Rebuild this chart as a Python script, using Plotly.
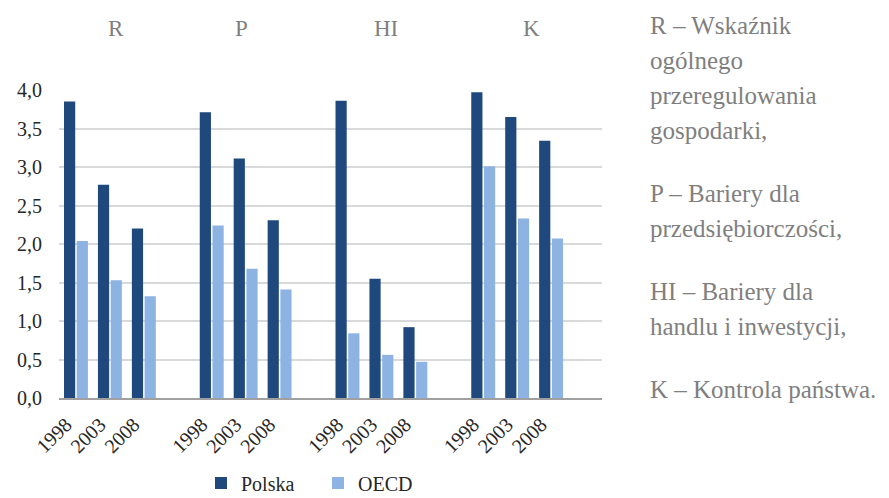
import plotly.graph_objects as go

# ---- data ----
groups = ["R", "P", "HI", "K"]
years = ["1998", "2003", "2008"]
polska = [3.85, 2.77, 2.20, 3.71, 3.11, 2.31, 3.86, 1.55, 0.92, 3.97, 3.65, 3.34]
oecd = [2.04, 1.53, 1.32, 2.24, 1.68, 1.41, 0.84, 0.56, 0.47, 3.01, 2.33, 2.07]
y_ticks = [0.0, 0.5, 1.0, 1.5, 2.0, 2.5, 3.0, 3.5, 4.0]
series_names = ["Polska", "OECD"]
desc_paragraphs = [
    ["R – Wskaźnik", "ogólnego", "przeregulowania", "gospodarki,"],
    ["P – Bariery dla", "przedsiębiorczości,"],
    ["HI – Bariery dla", "handlu i inwestycji,"],
    ["K – Kontrola państwa."],
]

# ---- layout constants (page pixels; the page body has an 8px margin) ----
OFF = 8
PAGE_W, PAGE_H = 889, 498
W, H = PAGE_W - OFF, PAGE_H - OFF
plot_left, plot_right, plot_top, plot_bottom = 59, 602, 90, 398  # page px
L = plot_left - OFF
T = plot_top - OFF
R = W - (plot_right - OFF)
B = H - (plot_bottom - OFF)
plot_h = plot_bottom - plot_top
plot_w = plot_right - plot_left
FONT = "Liberation Serif"
C_POL = "#1F497D"
C_OECD = "#8DB3E2"
GRAY_TXT = "#7F7F7F"

slots_per_group = len(years) + 1
xpos = [gi * slots_per_group + yi for gi in range(len(groups)) for yi in range(len(years))]
ticktext = [years[yi] for gi in range(len(groups)) for yi in range(len(years))]

fig = go.Figure()
fig.add_trace(go.Bar(x=xpos, y=polska, name=series_names[0], marker_color=C_POL,
                     marker_line_width=0))
fig.add_trace(go.Bar(x=xpos, y=oecd, name=series_names[1], marker_color=C_OECD,
                     marker_line_width=0))

def py(px):
    return (plot_bottom - px) / plot_h

def pxx(px):
    return (px - plot_left) / plot_w

annotations = []
grp_px = [116, 241, 386, 531]
for g, gx in zip(groups, grp_px):
    annotations.append(dict(text=g, x=pxx(gx), y=py(28), xref="paper", yref="paper",
                            xanchor="center", yanchor="middle", showarrow=False,
                            font=dict(family=FONT, size=23, color=GRAY_TXT)))

fs = 25
line_step = 35
para_step = 63
base = 33
y_cur = base
for pi, para in enumerate(desc_paragraphs):
    for li, line in enumerate(para):
        annotations.append(dict(text=line, x=pxx(648), y=py(y_cur - 0.3 * fs),
                                xref="paper", yref="paper", xanchor="left",
                                yanchor="middle", showarrow=False,
                                font=dict(family=FONT, size=fs, color=GRAY_TXT)))
        if li < len(para) - 1:
            y_cur += line_step
    y_cur += para_step

fig.update_layout(
    width=W, height=H,
    margin=dict(l=L, r=R, t=T, b=B, pad=0, autoexpand=False),
    paper_bgcolor="white", plot_bgcolor="white",
    separators=", ",
    barmode="group", bargap=0.25, bargroupgap=0.12,
    font=dict(family=FONT, size=20, color="#262626"),
    showlegend=True,
    legend=dict(orientation="h", x=pxx(201), xanchor="left", y=py(483), yanchor="middle",
                font=dict(family=FONT, size=20, color="#262626"),
                itemwidth=30, entrywidth=72, entrywidthmode="pixels",
                bgcolor="rgba(0,0,0,0)"),
    annotations=annotations,
)
fig.update_xaxes(range=[-0.5, len(groups) * slots_per_group - 0.5], automargin=False,
                 tickmode="array", tickvals=xpos, ticktext=ticktext, tickangle=-45,
                 ticklabelshift=-10, ticklabelstandoff=5,
                 showgrid=False, zeroline=False, showline=True, linecolor="#A0A0A0",
                 linewidth=2, ticks="", tickfont=dict(family=FONT, size=20, color="#262626"))
fig.update_yaxes(range=[0, 4], tickmode="array", tickvals=y_ticks, tickformat=".1f",
                 automargin=False,
                 showgrid=True, gridcolor="#D9D9D9", gridwidth=1.5, zeroline=False,
                 showline=False, ticks="", ticklabelstandoff=16,
                 tickfont=dict(family=FONT, size=20, color="#262626"))

fig.write_html("out.html")
